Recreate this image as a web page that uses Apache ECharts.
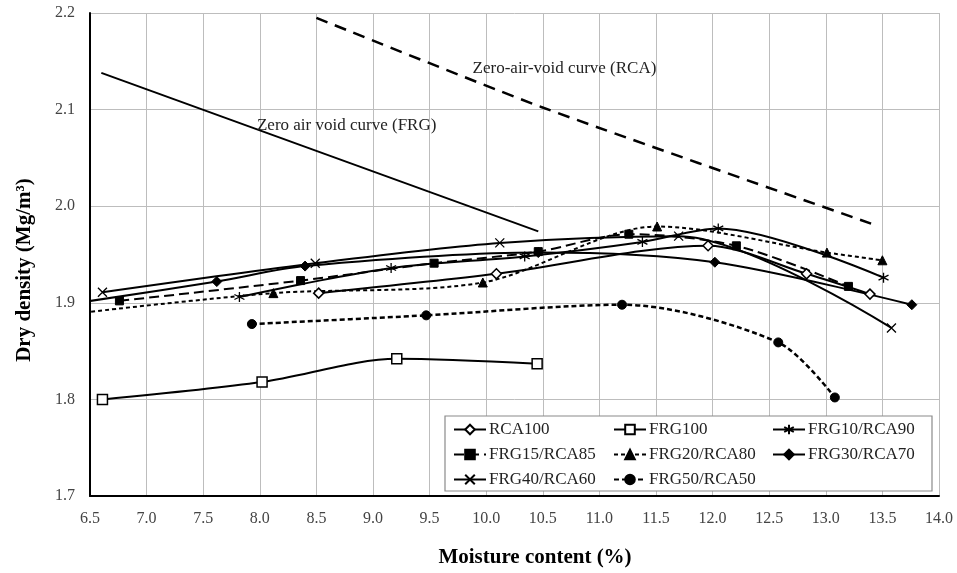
<!DOCTYPE html>
<html>
<head>
<meta charset="utf-8">
<script src="https://cdn.jsdelivr.net/npm/echarts@6/dist/echarts.min.js"></script>
<style>
html,body{margin:0;padding:0;background:#fff;}
#chart{width:957px;height:573px;}
</style>
</head>
<body>
<div id="chart"></div>
<script>
// ---- data (moisture %, dry density Mg/m3) ----
const RCA100     = [[8.52,1.910],[10.09,1.930],[11.96,1.959],[12.83,1.930],[13.39,1.909]];
const FRG100     = [[6.61,1.800],[8.02,1.818],[9.21,1.842],[10.45,1.837]];
const FRG10_RCA90 = [[7.82,1.906],[9.16,1.936],[10.34,1.948],[11.38,1.963],[12.05,1.977],[13.51,1.926]];
const FRG15_RCA85 = [[6.76,1.902],[8.36,1.923],[9.54,1.941],[10.46,1.953],[11.26,1.971],[12.21,1.959],[13.20,1.917]];
const FRG20_RCA80 = [[6.45,1.890],[8.12,1.910],[9.97,1.921],[11.51,1.979],[13.01,1.952],[13.50,1.944]];
const FRG30_RCA70 = [[6.45,1.901],[7.62,1.922],[8.40,1.938],[10.46,1.952],[12.02,1.942],[13.76,1.898]];
const FRG40_RCA60 = [[6.61,1.911],[8.49,1.941],[10.12,1.962],[11.70,1.969],[13.58,1.874]];
const FRG50_RCA50 = [[7.93,1.878],[9.47,1.887],[11.20,1.898],[12.58,1.859],[13.08,1.802]];
const ZAV_FRG = [[6.60,2.138],[10.46,1.974]];
const ZAV_RCA = [[8.50,2.195],[10.48,2.103],[13.40,1.982]];
const labelFRG = {text:'Zero air void curve (FRG)', at:[7.975,2.084]};
const labelRCA = {text:'Zero-air-void curve (RCA)', at:[9.88,2.142]};
const xTicks = {min:6.5, max:14.0, step:0.5};
const yTicks = {min:1.7, max:2.2, step:0.1};
const xTitle = 'Moisture content (%)';
const yTitle = 'Dry density (Mg/m\u00B3)';

const FONT = '"Liberation Serif","Times New Roman",serif';
const chart = echarts.init(document.getElementById('chart'), null, {renderer:'canvas'});

const ASTERISK = 'path://M5,0L5,10M0.67,2.5L9.33,7.5M0.67,7.5L9.33,2.5';
const CROSS = 'path://M0,0L10,10M10,0L0,10';

function ser(name, data, symbol, opts) {
  opts = opts || {};
  return {
    name, type:'line', data, smooth:0.3, clip:true,
    symbol, symbolSize: opts.size || 8,
    showAllSymbol:true,
    lineStyle:{color:'#000', width: opts.width || 2, type: opts.dash || 'solid'},
    itemStyle: opts.item || {color:'#000', borderColor:'#000', borderWidth:1},
    emphasis:{disabled:true},
    z:2
  };
}

const series = [
  {name:'ZAV FRG', type:'line', data:ZAV_FRG, symbol:'none', smooth:0.2,
   lineStyle:{color:'#000', width:2}, emphasis:{disabled:true}, z:1},
  {name:'ZAV RCA', type:'line', data:ZAV_RCA, symbol:'none', smooth:0.2,
   lineStyle:{color:'#000', width:2.5, type:[12,8]}, emphasis:{disabled:true}, z:1},
  ser('RCA100', RCA100, 'diamond', {size:10, item:{color:'#fff', borderColor:'#000', borderWidth:1.5}}),
  ser('FRG100', FRG100, 'rect', {size:10, item:{color:'#fff', borderColor:'#000', borderWidth:1.5}}),
  ser('FRG10/RCA90', FRG10_RCA90, ASTERISK, {size:10, item:{color:'#000', borderColor:'#000', borderWidth:1.3}}),
  ser('FRG15/RCA85', FRG15_RCA85, 'rect', {size:8, dash:[10,5]}),
  ser('FRG20/RCA80', FRG20_RCA80, 'triangle', {size:9, dash:[4,3]}),
  ser('FRG30/RCA70', FRG30_RCA70, 'diamond', {size:10}),
  ser('FRG40/RCA60', FRG40_RCA60, CROSS, {size:9, item:{color:'#000', borderColor:'#000', borderWidth:1.3}}),
  ser('FRG50/RCA50', FRG50_RCA50, 'circle', {size:9, dash:[5,3], width:2.5})
];

function legendCol(left, names) {
  return {
    data: names, orient:'vertical', left, top:421, padding:0,
    itemWidth:32, itemHeight:12, itemGap:8,
    textStyle:{fontFamily:FONT, fontSize:17, color:'#222', padding:[0,0,0,-2]},
    selectedMode:false, z:6
  };
}

chart.setOption({
  animation:false,
  backgroundColor:'#fff',
  grid:{left:90, right:18, top:13, bottom:77},
  xAxis:{
    type:'value', min:xTicks.min, max:xTicks.max, interval:xTicks.step,
    axisLine:{show:true, onZero:false, lineStyle:{color:'#000', width:2}},
    axisTick:{show:false},
    axisLabel:{fontFamily:FONT, fontSize:16, color:'#444', margin:15,
      formatter:v=>v.toFixed(1)},
    splitLine:{show:true, lineStyle:{color:'#bdbdbd', width:1}}
  },
  yAxis:{
    type:'value', min:yTicks.min, max:yTicks.max, interval:yTicks.step,
    axisLine:{show:true, onZero:false, lineStyle:{color:'#000', width:2}},
    axisTick:{show:false},
    axisLabel:{fontFamily:FONT, fontSize:16, color:'#444', margin:15,
      formatter:v=>v.toFixed(1)},
    splitLine:{show:true, lineStyle:{color:'#bdbdbd', width:1}}
  },
  legend:[
    legendCol(453, ['RCA100','FRG15/RCA85','FRG40/RCA60']),
    legendCol(613, ['FRG100','FRG20/RCA80','FRG50/RCA50']),
    legendCol(772, ['FRG10/RCA90','FRG30/RCA70'])
  ],
  series
});

const pF = chart.convertToPixel({gridIndex:0}, labelFRG.at);
const pR = chart.convertToPixel({gridIndex:0}, labelRCA.at);

chart.setOption({
  graphic:[
    {type:'rect', shape:{x:445, y:416, width:487, height:75},
     style:{fill:'#fff', stroke:'#8a8a8a', lineWidth:1.2}, z:5},
    {type:'text', x:pF[0], y:pF[1], z:5,
     style:{text:labelFRG.text, font:'17px '+FONT, fill:'#222', verticalAlign:'middle'}},
    {type:'text', x:pR[0], y:pR[1], z:5,
     style:{text:labelRCA.text, font:'17px '+FONT, fill:'#222', verticalAlign:'middle'}},
    {type:'text', x:535, y:558, z:5,
     style:{text:xTitle, font:'bold 21px '+FONT, fill:'#000', align:'center', verticalAlign:'middle'}},
    {type:'text', x:25, y:270, rotation:Math.PI/2, z:5,
     style:{text:yTitle, font:'bold 21px '+FONT, fill:'#000', align:'center', verticalAlign:'middle'}}
  ]
});
</script>
</body>
</html>
